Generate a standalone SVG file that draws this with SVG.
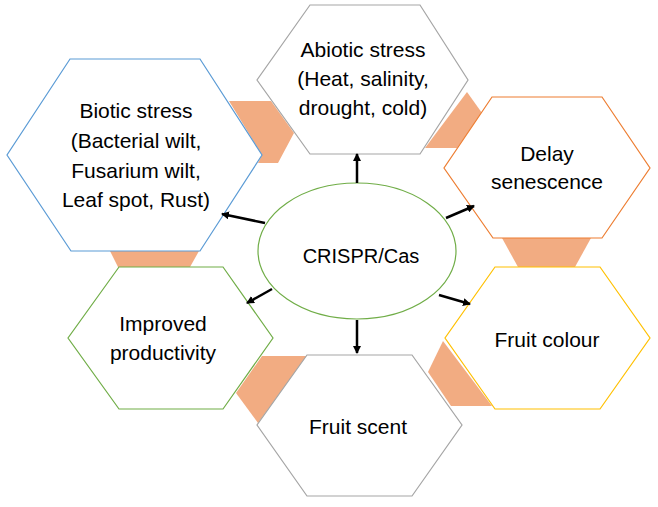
<svg xmlns="http://www.w3.org/2000/svg" width="658" height="507" viewBox="0 0 658 507">
<defs>
<marker id="ah" markerWidth="8" markerHeight="8" refX="7" refY="4" orient="auto" markerUnits="userSpaceOnUse">
<path d="M0,0 L8,4 L0,8 z" fill="#000"/>
</marker>
<style>
.hex{fill:#fff;stroke-width:1.2}
.band{fill:#F2AC82}
.lbl{font-family:"Liberation Sans",Arial,sans-serif;font-size:21px;fill:#000;text-anchor:middle}
.arr{stroke:#000;stroke-width:2.5;fill:none;marker-end:url(#ah)}
</style>
</defs>
<rect width="658" height="507" fill="#fff"/>
<g id="bands">
<polygon class="band" points="229,101 271,101 294,133 278,163 258,163 262,155"/>
<polygon class="band" points="467,92 482,113 457,148 425,148"/>
<polygon class="band" points="502,238 591,238 575,267 518,267"/>
<polygon class="band" points="443,341 492,406 451,406 428,372"/>
<polygon class="band" points="262,356 307,356 258,423 236,393"/>
<polygon class="band" points="110,251 199,251 190,267 118,267"/>
</g>
<g id="biotic">
<polygon class="hex" stroke="#5B9BD5" points="70,59 200,59 262,155 200,251 71,251 7,155"/>
<text class="lbl" x="136" y="118">Biotic stress</text>
<text class="lbl" x="136" y="148">(Bacterial wilt,</text>
<text class="lbl" x="136" y="178">Fusarium wilt,</text>
<text class="lbl" x="136" y="207">Leaf spot, Rust)</text>
</g>
<g id="abiotic">
<polygon class="hex" stroke="#A5A5A5" points="310,5 420,5 468,80 420,154 310,154 257,80"/>
<text class="lbl" x="363" y="57">Abiotic stress</text>
<text class="lbl" x="363" y="86">(Heat, salinity,</text>
<text class="lbl" x="363" y="115">drought, cold)</text>
</g>
<g id="delay">
<polygon class="hex" stroke="#ED7D31" points="492,97 602,97 650,168 602,238 493,238 444,168"/>
<text class="lbl" x="547" y="161">Delay</text>
<text class="lbl" x="547" y="189">senescence</text>
</g>
<g id="colour">
<polygon class="hex" stroke="#FFC000" points="495,267 600,267 650,338 600,409 495,409 445,338"/>
<text class="lbl" x="547" y="347">Fruit colour</text>
</g>
<g id="productivity">
<polygon class="hex" stroke="#70AD47" points="119,267 223,267 273,338 223,409 119,409 68,338"/>
<text class="lbl" x="163" y="331">Improved</text>
<text class="lbl" x="163" y="360">productivity</text>
</g>
<g id="scent">
<polygon class="hex" stroke="#A5A5A5" points="307,355 412,355 462,425 412,496 307,496 257,425"/>
<text class="lbl" x="358" y="434">Fruit scent</text>
</g>
<g id="crispr">
<ellipse cx="357" cy="251" rx="99" ry="68" fill="#fff" stroke="#70AD47" stroke-width="1.2"/>
<text class="lbl" x="361" y="263" style="font-size:20px">CRISPR/Cas</text>
</g>
<g id="connectors">
<line class="arr" x1="357" y1="183" x2="357" y2="154"/>
<line class="arr" x1="265" y1="223" x2="222" y2="214"/>
<line class="arr" x1="446" y1="218" x2="474" y2="206"/>
<line class="arr" x1="272" y1="289" x2="247" y2="303"/>
<line class="arr" x1="439" y1="295" x2="470" y2="304"/>
<line class="arr" x1="357" y1="320" x2="357" y2="353"/>
</g>
</svg>
